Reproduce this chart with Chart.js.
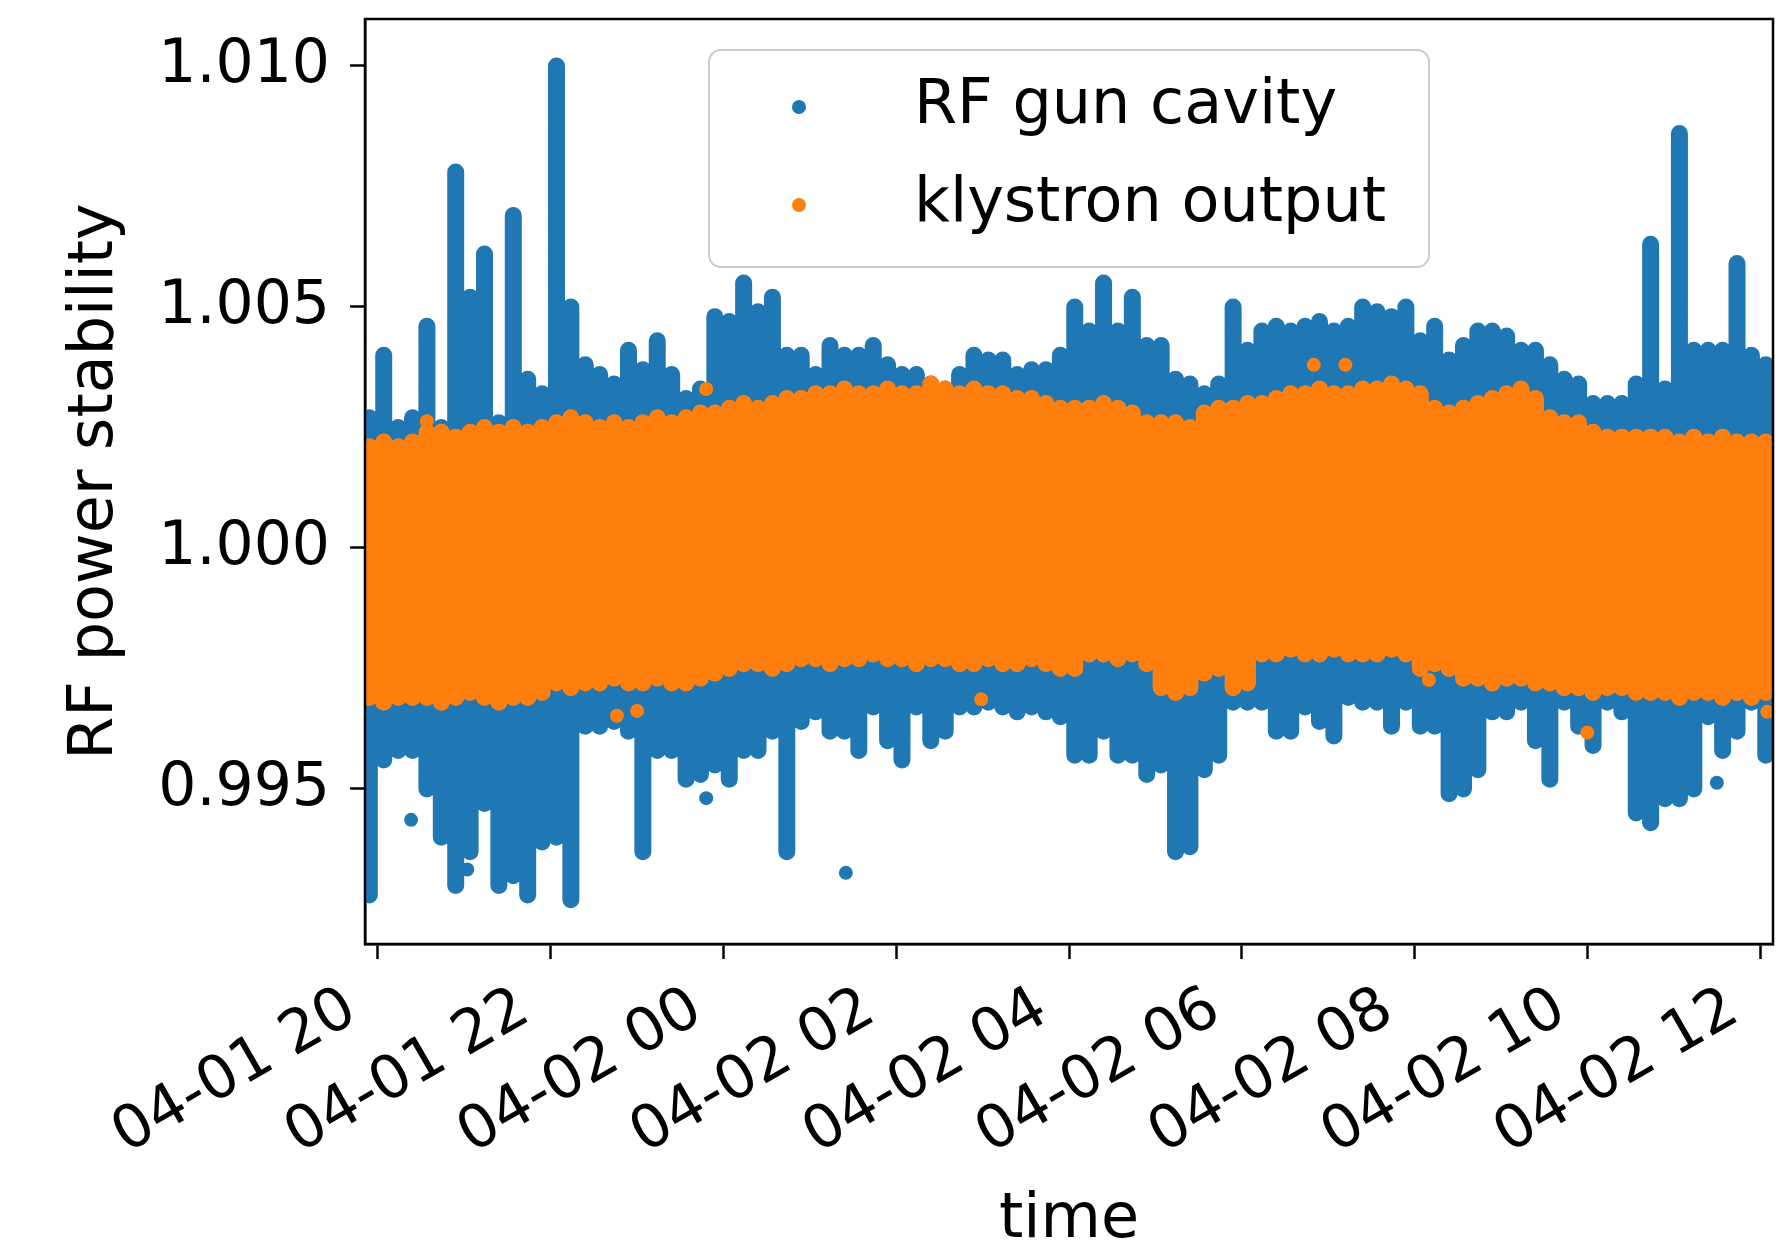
<!DOCTYPE html>
<html>
<head>
<meta charset="utf-8">
<title>RF power stability</title>
<script src="https://cdn.jsdelivr.net/npm/chart.js@4.4.1/dist/chart.umd.min.js"></script>
<style>
  html, body { margin: 0; padding: 0; background: #fff; }
  canvas { display: block; }
</style>
</head>
<body>
<canvas id="chart" width="1788" height="1245"></canvas>
<script>
// sample times, minutes after 04-01 20:00 (10 minute bins)
const minutes = [
  -6, 4, 14, 24, 34, 44, 54, 64, 74, 84,
  94, 104, 114, 124, 134, 144, 154, 164, 174, 184,
  194, 204, 214, 224, 234, 244, 254, 264, 274, 284,
  294, 304, 314, 324, 334, 344, 354, 364, 374, 384,
  394, 404, 414, 424, 434, 444, 454, 464, 474, 484,
  494, 504, 514, 524, 534, 544, 554, 564, 574, 584,
  594, 604, 614, 624, 634, 644, 654, 664, 674, 684,
  694, 704, 714, 724, 734, 744, 754, 764, 774, 784,
  794, 804, 814, 824, 834, 844, 854, 864, 874, 884,
  894, 904, 914, 924, 934, 944, 954, 964
];

// RF gun cavity: highest / lowest reading in each bin
const gunHigh = [
  1.0027, 1.0040, 1.0025, 1.0027, 1.0046, 1.0025, 1.0078, 1.0052, 1.0061, 1.0026,
  1.0069, 1.0035, 1.0032, 1.0100, 1.0050, 1.0038, 1.0036, 1.0034, 1.0041, 1.0037,
  1.0043, 1.0036, 1.0031, 1.0033, 1.0048, 1.0047, 1.0055, 1.0049, 1.0052, 1.0040,
  1.0040, 1.0036, 1.0042, 1.0040, 1.0040, 1.0042, 1.0038, 1.0036, 1.0036, 1.0034,
  1.0033, 1.0036, 1.0040, 1.0039, 1.0039, 1.0036, 1.0037, 1.0037, 1.0040, 1.0050,
  1.0045, 1.0055, 1.0045, 1.0052, 1.0042, 1.0042, 1.0035, 1.0034, 1.0032, 1.0034,
  1.0050, 1.0041, 1.0045, 1.0046, 1.0045, 1.0046, 1.0047, 1.0045, 1.0046, 1.0050,
  1.0049, 1.0048, 1.0050, 1.0043, 1.0046, 1.0039, 1.0042, 1.0045, 1.0045, 1.0044,
  1.0041, 1.0041, 1.0038, 1.0035, 1.0034, 1.0030, 1.0030, 1.0030, 1.0034, 1.0063,
  1.0033, 1.0086, 1.0041, 1.0041, 1.0041, 1.0059, 1.0040, 1.0038
];
const gunLow = [
  0.9928, 0.9956, 0.9958, 0.9958, 0.9950, 0.9940, 0.9930, 0.9937, 0.9947, 0.9930,
  0.9932, 0.9928, 0.9939, 0.9940, 0.9927, 0.9963, 0.9963, 0.9964, 0.9962, 0.9937,
  0.9958, 0.9958, 0.9952, 0.9953, 0.9955, 0.9952, 0.9958, 0.9958, 0.9962, 0.9937,
  0.9964, 0.9966, 0.9962, 0.9962, 0.9958, 0.9967, 0.9960, 0.9956, 0.9967, 0.9960,
  0.9962, 0.9967, 0.9967, 0.9968, 0.9967, 0.9966, 0.9967, 0.9966, 0.9965, 0.9957,
  0.9957, 0.9962, 0.9957, 0.9957, 0.9953, 0.9955, 0.9937, 0.9938, 0.9954, 0.9957,
  0.9968, 0.9968, 0.9968, 0.9962, 0.9962, 0.9967, 0.9964, 0.9961, 0.9969, 0.9968,
  0.9968, 0.9963, 0.9968, 0.9963, 0.9963, 0.9949, 0.9950, 0.9954, 0.9966, 0.9966,
  0.9968, 0.9960, 0.9952, 0.9968, 0.9963, 0.9959, 0.9968, 0.9966, 0.9945, 0.9943,
  0.9948, 0.9948, 0.9950, 0.9965, 0.9958, 0.9962, 0.9968, 0.9957
];

// klystron output: highest / lowest reading in each bin
const klyHigh = [
  1.0021, 1.0022, 1.0021, 1.0022, 1.0024, 1.0024, 1.0023, 1.0024, 1.0025, 1.0024,
  1.0025, 1.0024, 1.0025, 1.0026, 1.0027, 1.0026, 1.0025, 1.0026, 1.0025, 1.0026,
  1.0027, 1.0026, 1.0027, 1.0028, 1.0028, 1.0029, 1.0030, 1.0029, 1.0030, 1.0031,
  1.0031, 1.0032, 1.0032, 1.0033, 1.0032, 1.0032, 1.0033, 1.0032, 1.0032, 1.0034,
  1.0033, 1.0032, 1.0033, 1.0032, 1.0032, 1.0031, 1.0031, 1.0030, 1.0029, 1.0029,
  1.0029, 1.0030, 1.0029, 1.0028, 1.0026, 1.0026, 1.0026, 1.0025, 1.0028, 1.0029,
  1.0029, 1.0030, 1.0030, 1.0031, 1.0032, 1.0032, 1.0033, 1.0032, 1.0032, 1.0033,
  1.0033, 1.0034, 1.0033, 1.0032, 1.0029, 1.0028, 1.0029, 1.0030, 1.0031, 1.0032,
  1.0033, 1.0031, 1.0027, 1.0026, 1.0026, 1.0024, 1.0023, 1.0023, 1.0023, 1.0023,
  1.0023, 1.0022, 1.0023, 1.0022, 1.0023, 1.0022, 1.0022, 1.0022
];
const klyLow = [
  0.9969, 0.9968, 0.9969, 0.9969, 0.9969, 0.9968, 0.9969, 0.9970, 0.9969, 0.9968,
  0.9969, 0.9969, 0.9970, 0.9972, 0.9971, 0.9972, 0.9972, 0.9973, 0.9972, 0.9972,
  0.9973, 0.9972, 0.9972, 0.9973, 0.9974, 0.9975, 0.9976, 0.9976, 0.9975, 0.9976,
  0.9977, 0.9977, 0.9976, 0.9977, 0.9977, 0.9978, 0.9977, 0.9977, 0.9976, 0.9977,
  0.9977, 0.9976, 0.9976, 0.9977, 0.9976, 0.9976, 0.9977, 0.9976, 0.9975, 0.9975,
  0.9978, 0.9978, 0.9977, 0.9978, 0.9976, 0.9971, 0.9970, 0.9971, 0.9974, 0.9975,
  0.9971, 0.9972, 0.9978, 0.9978, 0.9979, 0.9978, 0.9978, 0.9979, 0.9978, 0.9978,
  0.9978, 0.9979, 0.9978, 0.9975, 0.9976, 0.9975, 0.9973, 0.9973, 0.9972, 0.9973,
  0.9973, 0.9972, 0.9972, 0.9971, 0.9971, 0.9970, 0.9971, 0.9971, 0.9970, 0.9970,
  0.9970, 0.9969, 0.9970, 0.9970, 0.9969, 0.9970, 0.9969, 0.9970
];

// lone readings outside the bands
const gunStrayMinutes = [23, 62, 228, 325, 930];
const gunStrayValues = [0.99436, 0.99333, 0.99481, 0.99326, 0.99513];
const klyStrayMinutes = [34, 166, 180, 228, 419, 650, 672, 730, 840, 965];
const klyStrayValues = [1.00263, 0.99652, 0.99662, 1.0033, 0.99686, 1.0038, 1.0038, 0.99726, 0.99617, 0.9966];

const seriesNames = ['RF gun cavity', 'klystron output'];
const BLUE = '#1f77b4';
const ORANGE = '#ff7f0e';
const seriesColors = [BLUE, ORANGE];

// one vertical stroke per bin, from the low to the high reading
function columns(low, high) {
  const pts = [];
  minutes.forEach((m, i) => {
    pts.push({ x: m, y: low[i] }, { x: m, y: high[i] }, { x: m, y: null });
  });
  return pts;
}

function strays(ms, vals) {
  return ms.map((m, i) => ({ x: m, y: vals[i] }));
}

function timeLabel(v) {
  const total = 20 * 60 + v;
  const day = 1 + Math.floor(total / 1440);
  const hour = Math.floor((total % 1440) / 60);
  return '04-0' + day + ' ' + String(hour).padStart(2, '0');
}

// strokes a bit wider than the bin spacing so neighbouring bins merge
const columnStyle = {
  showLine: true,
  spanGaps: false,
  fill: false,
  pointRadius: 0,
  pointHoverRadius: 0,
  borderWidth: 17,
  borderCapStyle: 'round',
  borderJoinStyle: 'round',
  clip: 0
};

const strayStyle = {
  showLine: false,
  pointRadius: 7,
  pointBorderWidth: 0,
  pointHoverRadius: 7,
  clip: 0
};

const frame = {
  id: 'frame',
  afterDatasetsDraw(chart) {
    const { ctx, chartArea: a } = chart;
    ctx.save();
    ctx.strokeStyle = '#000';
    ctx.lineWidth = 2.5;
    ctx.strokeRect(a.left, a.top, a.right - a.left, a.bottom - a.top);
    ctx.restore();
  }
};

const boxedLegend = {
  id: 'boxedLegend',
  afterDraw(chart) {
    const { ctx, chartArea: a } = chart;
    const w = 720, h = 217;
    const left = (a.left + a.right) / 2 - w / 2;
    const top = a.top + 31;
    ctx.save();
    ctx.beginPath();
    ctx.roundRect(left, top, w, h, 12);
    ctx.fillStyle = 'rgba(255,255,255,0.8)';
    ctx.fill();
    ctx.lineWidth = 2;
    ctx.strokeStyle = '#cccccc';
    ctx.stroke();
    ctx.font = '62px "DejaVu Sans"';
    ctx.textBaseline = 'middle';
    ctx.textAlign = 'left';
    seriesNames.forEach((name, i) => {
      const y = top + 57 + i * 98;
      ctx.beginPath();
      ctx.arc(left + 90, y, 7, 0, Math.PI * 2);
      ctx.fillStyle = seriesColors[i];
      ctx.fill();
      ctx.fillStyle = '#000';
      ctx.fillText(name, left + 205, y);
    });
    ctx.restore();
  }
};

Chart.defaults.font.family = '"DejaVu Sans", sans-serif';
Chart.defaults.color = '#000';

new Chart(document.getElementById('chart'), {
  type: 'scatter',
  data: {
    datasets: [
      { label: seriesNames[1], data: columns(klyLow, klyHigh), borderColor: ORANGE, order: 0, ...columnStyle },
      { label: seriesNames[1], data: strays(klyStrayMinutes, klyStrayValues), backgroundColor: ORANGE, order: 1, ...strayStyle },
      { label: seriesNames[0], data: columns(gunLow, gunHigh), borderColor: BLUE, order: 2, ...columnStyle },
      { label: seriesNames[0], data: strays(gunStrayMinutes, gunStrayValues), backgroundColor: BLUE, order: 3, ...strayStyle }
    ]
  },
  options: {
    responsive: false,
    animation: false,
    devicePixelRatio: 1,
    events: [],
    layout: { padding: { left: 0, top: 19, right: 15, bottom: 0 } },
    plugins: {
      legend: { display: false },
      tooltip: { enabled: false }
    },
    scales: {
      x: {
        type: 'linear',
        min: -9,
        max: 969,
        afterFit: (s) => { s.height = 301; s.paddingLeft = 0; s.paddingRight = 0; },
        grid: { display: true, drawOnChartArea: false, drawTicks: true, tickLength: 15, tickWidth: 2.5, tickColor: '#000' },
        border: { display: true, color: '#000', width: 2.5 },
        ticks: {
          stepSize: 120,
          includeBounds: false,
          autoSkip: false,
          minRotation: 30,
          maxRotation: 30,
          padding: 15,
          labelOffset: -26,
          font: { size: 60 },
          color: '#000',
          callback: (v) => timeLabel(v)
        },
        title: { display: true, text: 'time', font: { size: 62, lineHeight: 0.79 }, padding: 0, color: '#000' }
      },
      y: {
        type: 'linear',
        min: 0.991784,
        max: 1.010975,
        afterFit: (s) => { s.width = 365; s.paddingTop = 0; s.paddingBottom = 0; },
        grid: { display: true, drawOnChartArea: false, drawTicks: true, tickLength: 15, tickWidth: 2.5, tickColor: '#000' },
        border: { display: true, color: '#000', width: 2.5 },
        ticks: {
          stepSize: 0.005,
          includeBounds: false,
          padding: 20,
          font: { size: 60 },
          color: '#000',
          callback: (v) => v.toFixed(3)
        },
        title: { display: true, text: 'RF power stability', font: { size: 62 }, padding: { top: 59, bottom: 0 }, color: '#000' }
      }
    }
  },
  plugins: [frame, boxedLegend]
});
</script>
</body>
</html>
